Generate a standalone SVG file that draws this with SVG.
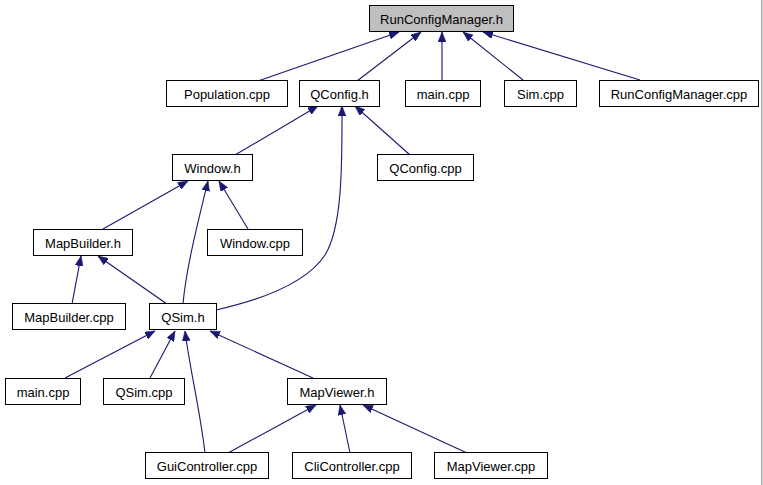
<svg xmlns="http://www.w3.org/2000/svg" width="763" height="485" viewBox="0 0 763 485">
<style>
.n rect{fill:#ffffff;stroke:#000000;stroke-width:1}
.n text{font-family:"Liberation Sans",Arial,Helvetica,sans-serif;font-size:13px;fill:#000000;text-anchor:middle}
#edges path{fill:none;stroke:#191970;stroke-width:1.1;marker-end:url(#ah)}
</style>
<defs>
<marker id="ah" viewBox="0 0 10 8" refX="10" refY="4" markerWidth="10" markerHeight="8" markerUnits="userSpaceOnUse" orient="auto">
<path d="M0,0 L10,4 L0,8 z" fill="#191970" stroke="#191970" stroke-width="0.5"/>
</marker>
</defs>
<rect x="0" y="0" width="763" height="485" fill="#ffffff"/>
<line x1="761.8" y1="0" x2="761.8" y2="485" stroke="#aaaaaa" stroke-width="1.5"/>
<g id="edges">
<path d="M258,81 L399,32"/>
<path d="M357,81 L421,32"/>
<path d="M442,80 L442,32"/>
<path d="M523,80 L463,32"/>
<path d="M640,80 L483,32"/>
<path d="M235,155 L318,106"/>
<path d="M410,155 L355,106"/>
<path d="M216,310 C260,300 306,284 325,255 C343,226 342,160 342,106"/>
<path d="M103,229 L188,181"/>
<path d="M248,229 L219,181"/>
<path d="M183,304 C186,270 196,230 208,181"/>
<path d="M72,304 L81,256"/>
<path d="M167,304 L98,256"/>
<path d="M65,378 L155,331"/>
<path d="M150,378 L175,331"/>
<path d="M205,453 C200,410 190,370 185,331"/>
<path d="M313,378 L210,331"/>
<path d="M228,453 L316,405"/>
<path d="M350,453 L340,405"/>
<path d="M467,453 L363,405"/>
</g>
<g id="n_runconfigmanager_h" class="n"><rect x="369.5" y="5.5" width="144" height="26" style="fill:#bfbfbf"/><text x="441.5" y="23.5">RunConfigManager.h</text></g>
<g id="n_population_cpp" class="n"><rect x="166.5" y="80.5" width="121" height="26"/><text x="227" y="98.5">Population.cpp</text></g>
<g id="n_qconfig_h" class="n"><rect x="299.5" y="80.5" width="80" height="26"/><text x="339.5" y="98.5">QConfig.h</text></g>
<g id="n_main_cpp_top" class="n"><rect x="405.5" y="80.5" width="75" height="26"/><text x="443" y="98.5">main.cpp</text></g>
<g id="n_sim_cpp" class="n"><rect x="504.5" y="80.5" width="72" height="26"/><text x="540.5" y="98.5">Sim.cpp</text></g>
<g id="n_runconfigmanager_cpp" class="n"><rect x="599.5" y="80.5" width="159" height="26"/><text x="679" y="98.5">RunConfigManager.cpp</text></g>
<g id="n_window_h" class="n"><rect x="172.5" y="154.5" width="80" height="26"/><text x="212.5" y="172.5">Window.h</text></g>
<g id="n_qconfig_cpp" class="n"><rect x="377.5" y="154.5" width="96" height="26"/><text x="425.5" y="172.5">QConfig.cpp</text></g>
<g id="n_mapbuilder_h" class="n"><rect x="33.5" y="229.5" width="99" height="26"/><text x="83" y="247.5">MapBuilder.h</text></g>
<g id="n_window_cpp" class="n"><rect x="207.5" y="229.5" width="95" height="26"/><text x="255" y="247.5">Window.cpp</text></g>
<g id="n_mapbuilder_cpp" class="n"><rect x="12.5" y="303.5" width="113" height="26"/><text x="69" y="321.5">MapBuilder.cpp</text></g>
<g id="n_qsim_h" class="n"><rect x="149.5" y="303.5" width="67" height="26"/><text x="183" y="321.5">QSim.h</text></g>
<g id="n_main_cpp_bottom" class="n"><rect x="5.5" y="378.5" width="75" height="26"/><text x="43" y="396.5">main.cpp</text></g>
<g id="n_qsim_cpp" class="n"><rect x="103.5" y="378.5" width="81" height="26"/><text x="144" y="396.5">QSim.cpp</text></g>
<g id="n_mapviewer_h" class="n"><rect x="287.5" y="378.5" width="99" height="26"/><text x="337" y="396.5">MapViewer.h</text></g>
<g id="n_guicontroller_cpp" class="n"><rect x="145.5" y="452.5" width="123" height="26"/><text x="207" y="470.5">GuiController.cpp</text></g>
<g id="n_clicontroller_cpp" class="n"><rect x="292.5" y="452.5" width="119" height="26"/><text x="352" y="470.5">CliController.cpp</text></g>
<g id="n_mapviewer_cpp" class="n"><rect x="434.5" y="452.5" width="113" height="26"/><text x="491" y="470.5">MapViewer.cpp</text></g>
</svg>
